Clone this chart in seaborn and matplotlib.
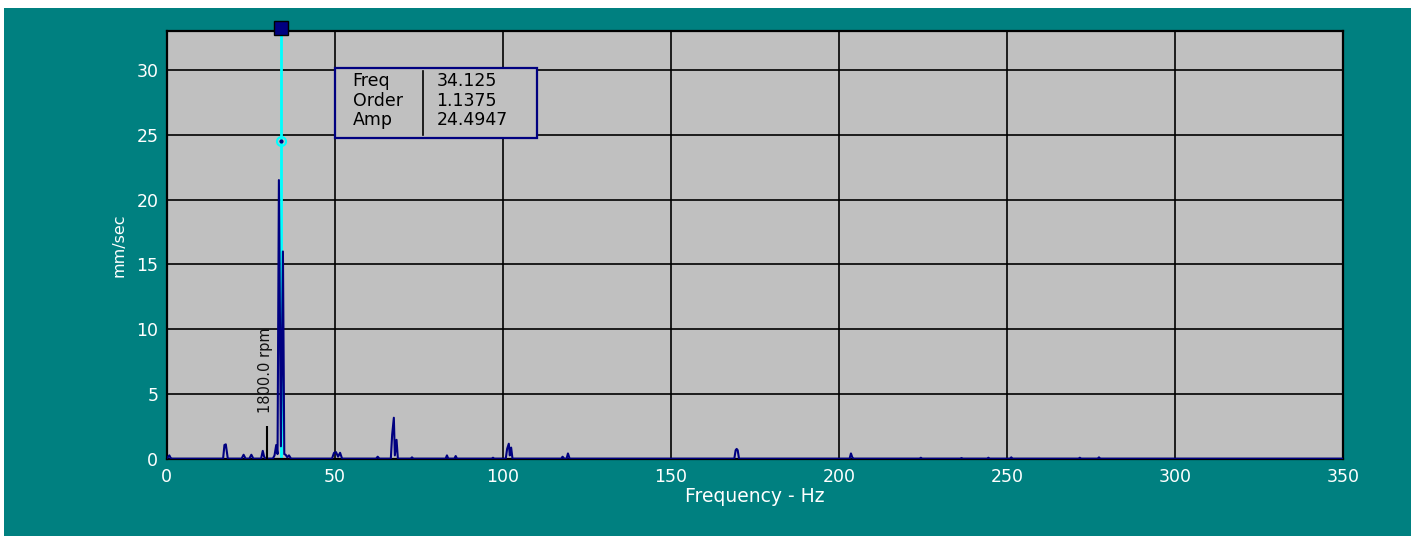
import numpy as np
import pandas as pd
import matplotlib.pyplot as plt
import seaborn as sns
from matplotlib.patches import Rectangle

# spectrum points (Hz, mm/sec)
freq_hz = [0.0, 0.8, 1.2, 1.6, 16.8, 17.2, 17.6, 17.9, 18.2,
           22.3, 22.9, 23.5, 24.6, 25.2, 25.8, 28.1, 28.6, 29.0, 29.4,
           31.6, 32.1, 32.6, 33.0, 33.4, 34.0, 34.6, 35.0, 35.4, 35.9, 36.4, 37.0,
           49.2, 49.8, 50.4, 51.0, 51.6, 52.2,
           62.3, 62.8, 63.3, 66.7, 67.1, 67.6, 67.9, 68.4, 68.8,
           72.6, 73.0, 73.4, 83.0, 83.4, 83.8, 85.6, 86.0, 86.4, 96.7, 97.1, 97.5,
           100.9, 101.3, 101.8, 102.1, 102.5, 102.9,
           117.4, 117.8, 118.3, 119.0, 119.4, 119.9,
           168.9, 169.3, 169.6, 169.9, 170.3,
           203.2, 203.6, 204.0, 204.4,
           224.0, 224.4, 224.8, 236.1, 236.5, 236.9, 244.1, 244.5, 244.9,
           250.9, 251.3, 251.7, 271.3, 271.7, 272.1, 277.0, 277.4, 277.8, 350.0]
amp_mm_s = [0.05, 0.3, 0.1, 0.05, 0.05, 1.1, 1.15, 0.6, 0.05,
            0.05, 0.35, 0.05, 0.05, 0.35, 0.05, 0.05, 0.65, 0.2, 0.05,
            0.05, 0.3, 1.1, 0.4, 21.5, 1.0, 16.0, 0.4, 0.35, 0.15, 0.3, 0.05,
            0.05, 0.5, 0.55, 0.2, 0.5, 0.05,
            0.05, 0.2, 0.05, 0.05, 1.9, 3.2, 0.3, 1.5, 0.05,
            0.05, 0.15, 0.05, 0.05, 0.3, 0.05, 0.05, 0.25, 0.05, 0.05, 0.12, 0.05,
            0.05, 0.8, 1.2, 0.3, 0.9, 0.05,
            0.05, 0.2, 0.05, 0.05, 0.45, 0.05,
            0.05, 0.7, 0.8, 0.7, 0.05,
            0.05, 0.45, 0.15, 0.05,
            0.05, 0.12, 0.05, 0.05, 0.1, 0.05, 0.05, 0.12, 0.05,
            0.05, 0.15, 0.05, 0.05, 0.12, 0.05, 0.05, 0.15, 0.05, 0.05]

# cursor readout
cursor_freq = 34.125
cursor_order = 1.1375
cursor_amp = 24.4947

# running speed marker
rpm_freq = 30.0
rpm_amp = 2.6
rpm_label = "1800.0 rpm"

x_ticks = [0, 50, 100, 150, 200, 250, 300, 350]
y_ticks = [0, 5, 10, 15, 20, 25, 30]

teal = "#008080"
panel = "#C0C0C0"
navy = "#000080"

plt.rcParams['font.family'] = ['DejaVu Sans']

df = pd.DataFrame({"freq": freq_hz, "amp": amp_mm_s})

fig = plt.figure(figsize=(14.11, 5.37), dpi=100, facecolor="white")
# teal window area, thin white margin at top/left
fig.add_artist(Rectangle((4 / 1411, 1 / 537), 1407 / 1411, 528 / 537,
                         transform=fig.transFigure, facecolor=teal,
                         edgecolor="none", zorder=-10))

ax = fig.add_axes([0.1181, 0.1447, 0.8337, 0.7981])
ax.set_facecolor(panel)

# spectrum
sns.lineplot(data=df, x="freq", y="amp", ax=ax, color=navy, linewidth=1.5,
             estimator=None, zorder=3)

# running speed marker and label
ax.vlines(rpm_freq, 0, rpm_amp, color="black", linewidth=1.5, zorder=3)
ax.text(rpm_freq - 0.6, rpm_amp + 1.0, rpm_label, rotation=90, ha="center",
        va="bottom", fontsize=10.5, color="#101010", zorder=4)

# cursor line with handle on top and marker at amplitude
ax.axvline(cursor_freq, color="#00FFFF", linewidth=2, zorder=2)
ax.plot([cursor_freq], [1.006], transform=ax.get_xaxis_transform(),
        marker="s", markersize=10, markerfacecolor=navy,
        markeredgecolor="black", markeredgewidth=1, clip_on=False, zorder=6)
ax.plot([cursor_freq], [cursor_amp], marker="o", markersize=6.5,
        markerfacecolor="none", markeredgecolor="#00FFFF", markeredgewidth=1.5,
        zorder=5)
ax.plot([cursor_freq], [cursor_amp], marker="o", markersize=2,
        color=navy, zorder=6)

# readout box
box = Rectangle((0.1429, 0.7495), 0.1723, 0.1638, transform=ax.transAxes,
                facecolor=panel, edgecolor=navy, linewidth=1.6, zorder=7)
ax.add_patch(box)
ax.plot([0.2179, 0.2179], [0.757, 0.906], transform=ax.transAxes,
        color="black", linewidth=1.2, zorder=8)
rows = [("Freq", f"{cursor_freq:.3f}"), ("Order", f"{cursor_order:.4f}"),
        ("Amp", f"{cursor_amp:.4f}")]
for (name, val), yy in zip(rows, [0.8821, 0.8356, 0.7907]):
    ax.text(0.1582, yy, name, transform=ax.transAxes, ha="left", va="center",
            fontsize=12.5, color="black", zorder=9)
    ax.text(0.2293, yy, val, transform=ax.transAxes, ha="left", va="center",
            fontsize=12.5, color="black", zorder=9)

ax.set_xlim(0, 350)
ax.set_ylim(0, 33)
ax.set_xticks(x_ticks)
ax.set_yticks(y_ticks)
ax.grid(True, color="black", linewidth=1.2)
ax.set_axisbelow(True)
ax.tick_params(length=0, labelsize=12.5, labelcolor="white", pad=6)
for s in ax.spines.values():
    s.set_color("black")
    s.set_linewidth(1.6)

ax.set_xlabel("Frequency - Hz", fontsize=13.5, color="white", labelpad=1)
ax.set_ylabel("mm/sec", fontsize=11.5, color="white", labelpad=7)

fig.savefig("out.png", dpi=100, facecolor=fig.get_facecolor())
